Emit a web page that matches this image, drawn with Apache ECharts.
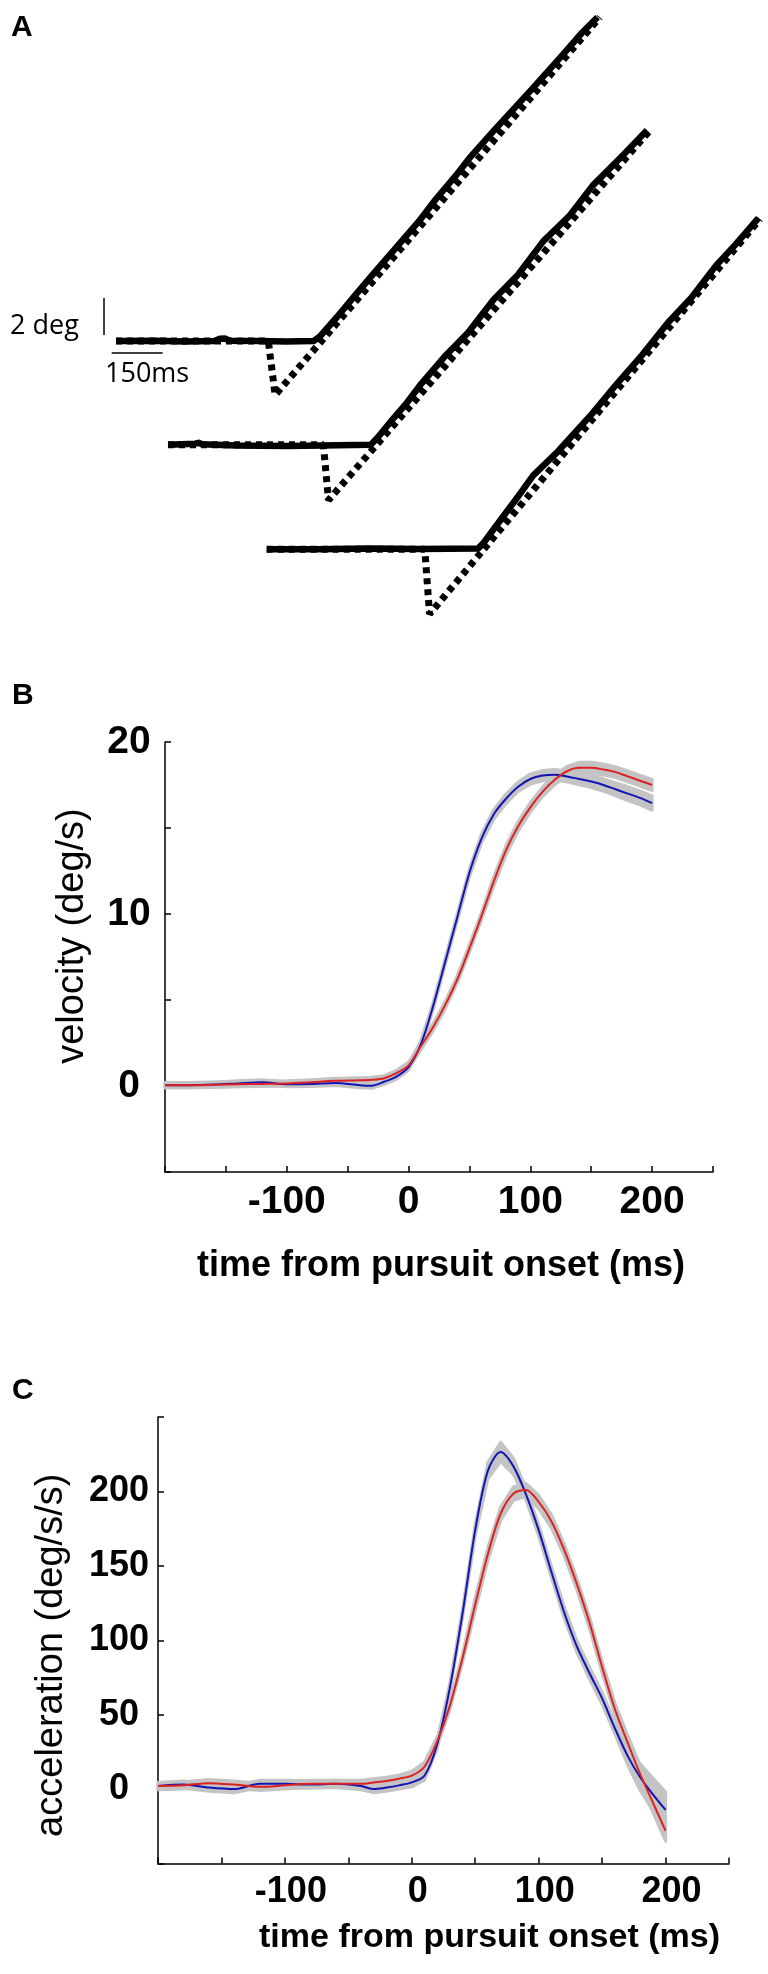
<!DOCTYPE html>
<html>
<head>
<meta charset="utf-8">
<title>Pursuit onset</title>
<script src="https://cdn.jsdelivr.net/npm/echarts@6.0.0/dist/echarts.min.js"></script>
<style>
  html, body { margin: 0; padding: 0; background: #fff; }
  #chart { width: 768px; height: 1974px; }
</style>
</head>
<body>
<div id="chart"></div>
<script>
// ---- panel A: eye (solid) and target (dotted) position, [ms from trace start, deg] ----
const eye1 = [[0, 0], [120, 0.02], [200, -0.03], [290, 0], [305, 0.12], [320, 0.14], [335, 0.02], [420, 0], [500, -0.02], [581, 0],
  [600, 0.25], [650, 1.3], [700, 2.4], [760, 3.7], [820, 4.97], [890, 6.45], [940, 7.65], [1000, 8.95], [1040, 9.9],
  [1110, 11.35], [1170, 12.55], [1230, 13.75], [1315, 15.5], [1370, 16.65], [1416, 17.5]]
const eye2 = [[0, 0], [80, 0.05], [90, 0.1], [100, 0.02], [200, -0.05], [350, -0.08], [450, -0.05], [597, 0],
  [620, 0.45], [653, 1.2], [700, 2.2], [741, 3.2], [813, 4.75], [880, 6.0], [958, 7.85], [1030, 9.2], [1104, 11.0],
  [1180, 12.35], [1249, 14.0], [1336, 15.6], [1409, 17.0]]
const eye3 = [[0, 0], [150, 0], [300, 0.05], [450, 0.02], [622, 0.05], [640, 0.4], [668, 1.1], [741, 2.9], [784, 4.0],
  [857, 5.3], [958, 7.35], [1030, 8.95], [1104, 10.5], [1180, 12.25], [1249, 13.6], [1322, 15.35], [1380, 16.5], [1446, 17.9]]
const target1 = [[0, 0], [448, 0], [468, -2.92], [1423, 17.5]]
const target2 = [[0, 0], [457, 0], [472, -3.0], [1418, 17.0]]
const target3 = [[0, 0], [465, 0], [479, -3.5], [1451, 17.86]]
const scaleTime = 150 // ms
const scaleDeg = 2 // deg

// ---- panels B and C: mean and SEM, sampled on a shared time base (ms from pursuit onset) ----
const timeMs = [-200, -180, -160, -140, -120, -100, -80, -60, -40, -30, -20, -10,
  0, 10, 20, 30, 40, 50, 60, 70, 80, 90, 100, 110, 120, 130, 140, 150, 160, 170, 180, 190, 200]

const velRed = [0.05, 0.05, 0.07, 0.1, 0.12, 0.15, 0.22, 0.3, 0.33, 0.36, 0.45, 0.75,
  1.2, 2.3, 3.4, 4.7, 6.2, 8.0, 9.9, 11.9, 13.7, 15.1, 16.2, 17.1, 17.8, 18.3, 18.5, 18.5, 18.4, 18.25, 18.0, 17.75, 17.5]
const velBlue = [0.05, 0.05, 0.08, 0.15, 0.22, 0.1, 0.12, 0.18, 0.05, 0.02, 0.25, 0.55,
  1.1, 2.4, 4.6, 7.2, 9.8, 12.4, 14.4, 15.8, 16.7, 17.4, 17.85, 18.05, 18.1, 18.0, 17.85, 17.7, 17.5, 17.25, 17.0, 16.75, 16.45]
const velRedSem = [0.15, 0.15, 0.15, 0.15, 0.15, 0.15, 0.15, 0.15, 0.15, 0.15, 0.15, 0.16,
  0.18, 0.22, 0.22, 0.22, 0.22, 0.22, 0.22, 0.28, 0.28, 0.28, 0.28, 0.28, 0.28, 0.28, 0.32, 0.32, 0.32, 0.32, 0.32, 0.32, 0.32]
const velBlueSem = [0.15, 0.15, 0.15, 0.15, 0.15, 0.15, 0.15, 0.15, 0.15, 0.15, 0.15, 0.16,
  0.18, 0.22, 0.22, 0.22, 0.22, 0.24, 0.26, 0.28, 0.28, 0.28, 0.3, 0.3, 0.3, 0.32, 0.34, 0.35, 0.36, 0.38, 0.4, 0.41, 0.42]

const accRed = [2, 2.5, 4, 3, 1.5, 2.5, 3.5, 3.5, 3.5, 4.5, 5.5, 7,
  9, 15, 32, 56, 88, 124, 158, 185, 198.5, 201, 193, 180, 161, 138, 112, 82, 54, 31.5, 10, -9, -28]
const accBlue = [2, 3, 1, 0, 3.5, 3.5, 3, 3.5, 2, 0, 1, 2.5,
  4.5, 9, 30, 68, 118, 174, 214, 226.5, 217, 198, 174, 146, 119, 96, 78, 61, 41, 22.5, 8, -3.5, -14]
const accRedSem = [2.5, 2.5, 2.5, 2.5, 2.5, 2.5, 2.5, 2.5, 2.5, 2.5, 2.5, 2.5,
  3, 3, 3, 3, 3, 4.5, 4.5, 4.5, 4.5, 4.5, 4.5, 4.5, 4, 4, 4, 4, 4, 5, 6, 6.5, 7]
const accBlueSem = [2.5, 2.5, 2.5, 2.5, 2.5, 2.5, 2.5, 2.5, 2.5, 2.5, 2.5, 2.5,
  3, 3, 3, 3, 3, 4, 5.5, 6.5, 5.5, 4, 4, 4, 4, 4, 4, 4, 4, 6, 9, 11, 12]

const timeTickLabels = [-100, 0, 100, 200]
const velTickLabels = [0, 10, 20]
const accTickLabels = [0, 50, 100, 150, 200]

// ---- layout of panel A (ms / deg per pixel and where each trace starts) ----
const MS_PER_PX = 150 / 51
const DEG_PER_PX = 2 / 37
const A_H = 640
const trialStart = [[341.2, 16.16], [494.1, 10.56], [784.4, 4.9]] // [ms, deg] origin of each trace
const vBarAt = [305.9, 16.49]
const hBarAt = [328.5, 15.51]

const BLUE = '#1414b4'
const RED = '#dc2222'
const GRAY = '#c4c4c4'
const FONT = '"Liberation Sans"'

const chart = echarts.init(document.getElementById('chart'))

function place (pts, origin) {
  return pts.map(p => [origin[0] + p[0], origin[1] + p[1]])
}

function traceSeries (pts, origin, dotted) {
  return {
    type: 'line',
    xAxisIndex: 0,
    yAxisIndex: 0,
    data: place(pts, origin),
    showSymbol: false,
    silent: true,
    lineStyle: dotted
      ? { color: '#000', width: 7, type: [6, 5], cap: 'butt' }
      : { color: '#000', width: 6.5, cap: 'butt', join: 'round' }
  }
}

function bandSeries (gi, mean, sem) {
  return {
    type: 'custom',
    xAxisIndex: gi,
    yAxisIndex: gi,
    silent: true,
    data: [[timeMs[0], mean[0]]],
    renderItem: function (params, api) {
      const upper = timeMs.map((t, i) => api.coord([t, mean[i] + sem[i]]))
      const lower = timeMs.map((t, i) => api.coord([t, mean[i] - sem[i]])).reverse()
      return {
        type: 'polygon',
        shape: { points: upper.concat(lower) },
        style: { fill: GRAY, stroke: GRAY, lineWidth: 3, lineJoin: 'round' }
      }
    }
  }
}

function meanSeries (gi, mean, color) {
  return {
    type: 'line',
    xAxisIndex: gi,
    yAxisIndex: gi,
    data: timeMs.map((t, i) => [t, mean[i]]),
    smooth: 0.3,
    showSymbol: false,
    silent: true,
    lineStyle: { color: color, width: 2 }
  }
}

const axisLineStyle = { color: '#000', width: 1.5 }

function timeAxis (gi) {
  return {
    gridIndex: gi,
    type: 'value',
    min: -200,
    max: 250,
    interval: 50,
    axisLine: { onZero: false, lineStyle: axisLineStyle },
    axisTick: { inside: true, length: 6, lineStyle: axisLineStyle },
    splitLine: { show: false },
    axisLabel: { show: false } // drawn below as text at the tick positions
  }
}

function valueAxis (gi, min, max, interval, labels, labelFont, labelMargin, labelPad) {
  return {
    gridIndex: gi,
    type: 'value',
    min: min,
    max: max,
    interval: interval,
    axisLine: { onZero: false, lineStyle: axisLineStyle },
    axisTick: { inside: true, length: 6, lineStyle: axisLineStyle },
    splitLine: { show: false },
    axisLabel: {
      formatter: v => (labels.includes(v) ? String(v) : ''),
      align: 'center',
      verticalAlign: 'middle',
      margin: labelMargin,
      padding: labelPad,
      color: '#000',
      fontFamily: 'Liberation Sans',
      fontWeight: 'bold',
      fontSize: labelFont
    }
  }
}

function label (text, x, y, font, rotation) {
  return {
    type: 'text',
    x: x,
    y: y,
    rotation: rotation || 0,
    silent: true,
    style: { text: text, font: font, fill: '#000', align: 'center', verticalAlign: 'middle' }
  }
}

const panelText = [
  { type: 'text', x: 11, y: 28, style: { text: 'A', font: 'bold 30px ' + FONT, fill: '#000', verticalAlign: 'middle' } },
  { type: 'text', x: 12, y: 696, style: { text: 'B', font: 'bold 30px ' + FONT, fill: '#000', verticalAlign: 'middle' } },
  { type: 'text', x: 12, y: 1391, style: { text: 'C', font: 'bold 30px ' + FONT, fill: '#000', verticalAlign: 'middle' } },
  { type: 'text', x: 10, y: 326, style: { text: '2 deg', font: '27px "Open Sans"', fill: '#000', verticalAlign: 'middle' } },
  { type: 'text', x: 105, y: 374, style: { text: '150ms', font: '27px "Open Sans"', fill: '#000', verticalAlign: 'middle' } }
]

const option = {
  animation: false,
  backgroundColor: '#fff',
  grid: [
    { left: 0, top: 0, width: 768, height: A_H, outerBoundsMode: 'none' },
    { left: 165, top: 742, width: 548, height: 430, outerBoundsMode: 'none' },
    { left: 158, top: 1417, width: 571, height: 446.5, outerBoundsMode: 'none' }
  ],
  xAxis: [
    { gridIndex: 0, type: 'value', min: 0, max: 768 * MS_PER_PX, show: false },
    timeAxis(1),
    timeAxis(2)
  ],
  yAxis: [
    { gridIndex: 0, type: 'value', min: 0, max: A_H * DEG_PER_PX, show: false },
    valueAxis(1, -5, 20, 5, velTickLabels, 39, 36, [0, 0, 8, 0]),
    valueAxis(2, -50, 250, 50, accTickLabels, 36, 39, [0, 0, 15, 0])
  ],
  series: [
    traceSeries(target1, trialStart[0], true),
    traceSeries(target2, trialStart[1], true),
    traceSeries(target3, trialStart[2], true),
    traceSeries(eye1, trialStart[0], false),
    traceSeries(eye2, trialStart[1], false),
    traceSeries(eye3, trialStart[2], false),
    {
      // scale bars
      type: 'line', xAxisIndex: 0, yAxisIndex: 0, showSymbol: false, silent: true,
      data: [[vBarAt[0], vBarAt[1]], [vBarAt[0], vBarAt[1] + scaleDeg]],
      lineStyle: { color: '#000', width: 1.5 }
    },
    {
      type: 'line', xAxisIndex: 0, yAxisIndex: 0, showSymbol: false, silent: true,
      data: [[hBarAt[0], hBarAt[1]], [hBarAt[0] + scaleTime, hBarAt[1]]],
      lineStyle: { color: '#000', width: 1.5 }
    },
    bandSeries(1, velBlue, velBlueSem),
    meanSeries(1, velBlue, BLUE),
    bandSeries(1, velRed, velRedSem),
    meanSeries(1, velRed, RED),
    bandSeries(2, accBlue, accBlueSem),
    meanSeries(2, accBlue, BLUE),
    bandSeries(2, accRed, accRedSem),
    meanSeries(2, accRed, RED)
  ],
  graphic: panelText
}

chart.setOption(option)

// time tick labels and axis titles, placed from the axes' own pixel mapping
const extra = []
timeTickLabels.forEach(t => {
  const b = chart.convertToPixel({ gridIndex: 1 }, [t, -5])
  extra.push(label(String(t), b[0], b[1] + 30, 'bold 39px ' + FONT))
  const c = chart.convertToPixel({ gridIndex: 2 }, [t, -50])
  extra.push(label(String(t), c[0] + 6, c[1] + 29, 'bold 36px ' + FONT))
})
const bMid = chart.convertToPixel({ gridIndex: 1 }, [25, 7.5])
const bBase = chart.convertToPixel({ gridIndex: 1 }, [-200, -5])
const cMid = chart.convertToPixel({ gridIndex: 2 }, [25, 100])
const cBase = chart.convertToPixel({ gridIndex: 2 }, [-200, -50])
extra.push(label('time from pursuit onset (ms)', bMid[0] + 2, bBase[1] + 94, 'bold 36px ' + FONT))
extra.push(label('time from pursuit onset (ms)', cMid[0] + 46, cBase[1] + 74, 'bold 34px ' + FONT))
extra.push(label('velocity (deg/s)', bBase[0] - 92, bMid[1] - 21, '38px ' + FONT, Math.PI / 2))
extra.push(label('acceleration (deg/s/s)', cBase[0] - 106, cMid[1] + 15, '38px ' + FONT, Math.PI / 2))

chart.setOption({ graphic: panelText.concat(extra) })

window.addEventListener('resize', () => {
  chart.resize()
})
</script>
</body>
</html>
